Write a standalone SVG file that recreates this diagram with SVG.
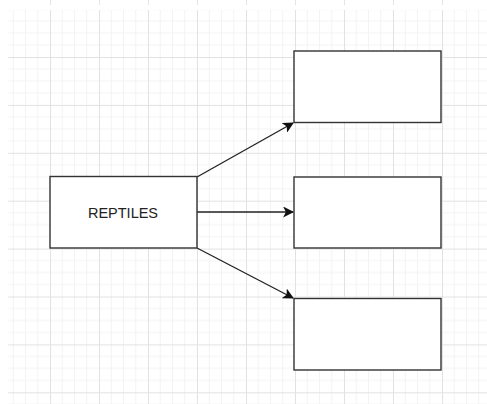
<svg xmlns="http://www.w3.org/2000/svg" width="487" height="404" viewBox="0 0 487 404">
<defs>
<pattern id="grid" patternUnits="userSpaceOnUse" x="1" y="9.1" width="49" height="47.9">
<g stroke="#f3f3f3" stroke-width="1" fill="none">
<path d="M12.25 0V47.9M24.5 0V47.9M36.75 0V47.9M0 11.975H49M0 23.95H49M0 35.925H49"/>
</g>
<path d="M0.5 0V47.9M0 0.5H49" stroke="#e2e2e2" stroke-width="1" fill="none"/>
</pattern>
<pattern id="topgrid" patternUnits="userSpaceOnUse" x="1" y="0" width="49" height="6">
<path d="M0.5 0V6" stroke="#e4e4e4" stroke-width="1"/>
</pattern>
<marker id="arr" viewBox="0 0 10 10" refX="9" refY="5" markerWidth="11" markerHeight="11" markerUnits="userSpaceOnUse" orient="auto">
<path d="M0 0L10 5L0 10L2.5 5Z" fill="#111"/>
</marker>
<style>
.box{fill:#fff;stroke:#333;stroke-width:1.4}
.edge{stroke:#222;stroke-width:1.3;fill:none}
.lbl{font-family:"Liberation Sans",Arial,sans-serif;font-size:14.5px;fill:#222}
</style>
</defs>
<rect width="487" height="404" fill="#fff"/>
<rect x="8" y="0" width="479" height="5" fill="url(#topgrid)"/>
<rect x="8" y="10" width="479" height="394" fill="url(#grid)"/>
<g id="connectors">
<path class="edge" d="M197 177L293 123" marker-end="url(#arr)"/>
<path class="edge" d="M197 212L293 212" marker-end="url(#arr)"/>
<path class="edge" d="M197 248L293 298" marker-end="url(#arr)"/>
</g>
<g id="reptiles">
<rect class="box" x="50" y="176.5" width="147" height="71.5"/>
<text class="lbl" x="123" y="218" text-anchor="middle">REPTILES</text>
</g>
<g id="box1">
<rect class="box" x="294" y="51" width="147" height="71.5"/>
</g>
<g id="box2">
<rect class="box" x="294" y="177" width="147" height="71"/>
</g>
<g id="box3">
<rect class="box" x="294" y="298.5" width="147" height="71.5"/>
</g>
</svg>
